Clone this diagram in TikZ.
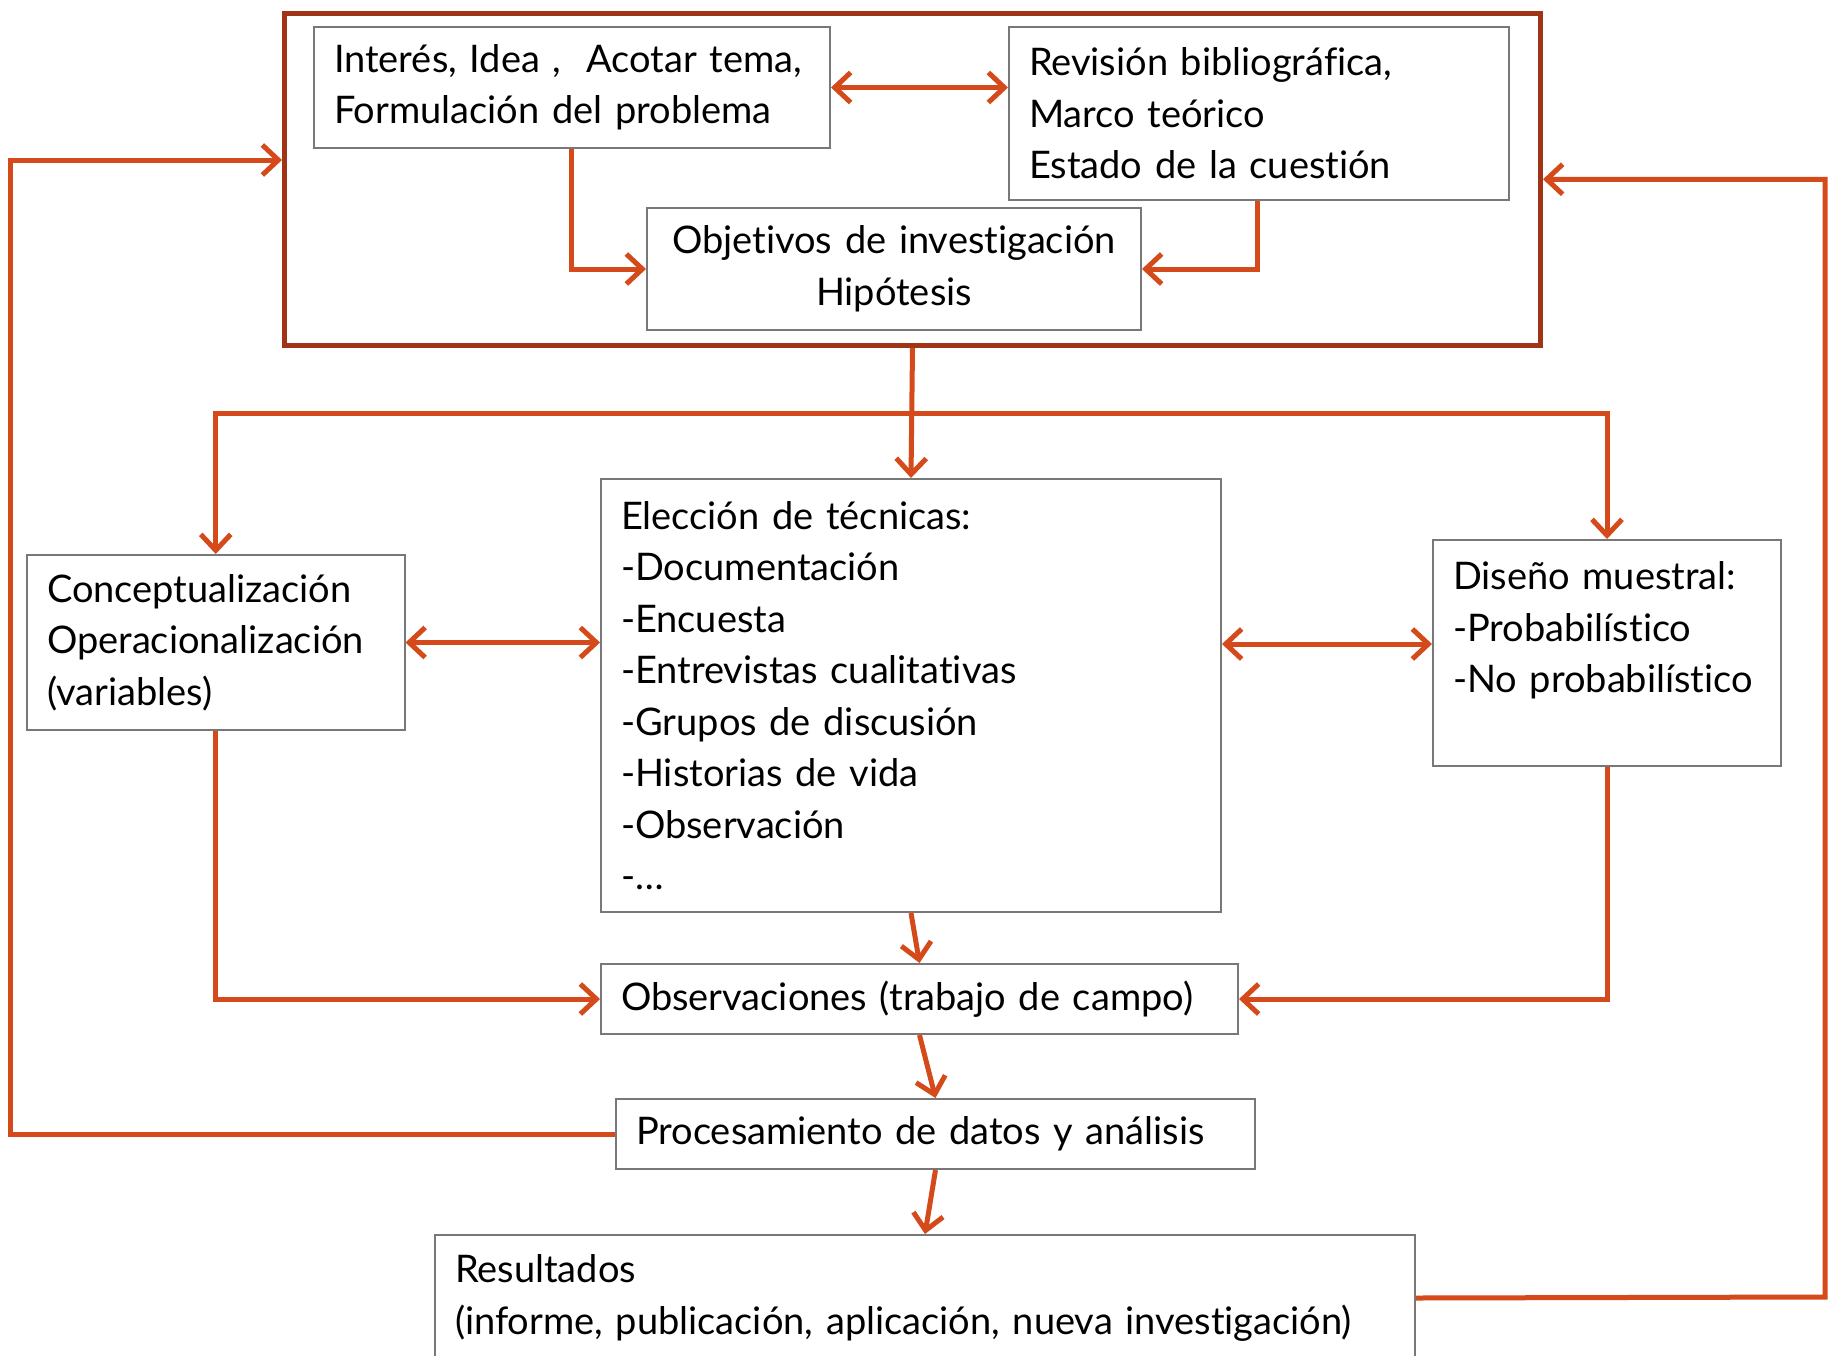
\documentclass[tikz,border=0pt]{standalone}
\usepackage{fontspec}
\setmainfont{Lato}[Ligatures=NoCommon]
\usetikzlibrary{arrows.meta}
\definecolor{connc}{RGB}{212,74,26}
\definecolor{framec}{RGB}{160,52,22}
\definecolor{boxc}{RGB}{120,120,120}
\begin{document}
\begin{tikzpicture}[x=1pt,y=-1pt,
  txt/.style={font={\fontsize{38pt}{51.5pt}\selectfont}},
  bx/.style={draw=boxc,line width=2pt,fill=white,anchor=north west,inner xsep=20pt,inner ysep=0pt,align=left,txt},
  framebox/.style={draw=framec,line width=5pt,anchor=north west,inner sep=0pt},
  conn/.style={draw=connc,line width=5pt,>={Straight Barb[length=16pt,width=30pt]}}]
\useasboundingbox[fill=white] (0,0) rectangle (1834,1355);
% frame
\node[framebox,minimum width=1256pt,minimum height=332.5pt] (frame) at (282,10.5) {};
% boxes
\node[bx,text width=476pt,minimum height=121pt] (b1) at (313,26) {\mbox{Interés, Idea ,\ \ Acotar tema,}\\\mbox{Formulación del problema}};
\node[bx,text width=460pt,minimum height=173pt] (b2) at (1008,26) {\mbox{Revisión bibliográfica,}\\Marco teórico\\\mbox{Estado de la cuestión}};
\node[bx,text width=454pt,minimum height=122pt,align=center] (b3) at (646,207) {\mbox{Objetivos de investigación}\\Hipótesis};
\node[bx,text width=337.5pt,minimum height=175pt] (cc) at (26,554) {\mbox{Conceptualización}\\\mbox{Operacionalización}\\(variables)};
\node[bx,text width=580pt,minimum height=433pt] (el) at (600,478) {\mbox{Elección de técnicas:}\\\mbox{-Documentación}\\-Encuesta\\\mbox{-Entrevistas cualitativas}\\\mbox{-Grupos de discusión}\\\mbox{-Historias de vida}\\\mbox{-Observación}\\-…};
\node[bx,text width=308pt,minimum height=226pt] (ds) at (1432,539) {\mbox{Diseño muestral:}\\\mbox{-Probabilístico}\\\mbox{-No probabilístico}\\\mbox{}};
\node[bx,text width=597pt,minimum height=70pt] (ob) at (600,963) {\mbox{Observaciones (trabajo de campo)}};
\node[bx,text width=599pt,minimum height=70pt] (pr) at (615,1098) {\mbox{Procesamiento de datos y análisis}};
\node[bx,text width=940pt,minimum height=126pt] (rs) at (434,1234) {Resultados\\\mbox{(informe, publicación, aplicación, nueva investigación)}};
% coordinates
\coordinate (br) at (910,413);
\coordinate (midy) at (0,644);
\coordinate (lfa) at (10.5,160);
\coordinate (rfa) at (1825,1297);
% connectors
\draw[conn,<->] (b1.east) -- (b1.east -| b2.west);
\draw[conn,->] ([xshift=258pt]b1.south west) |- (b3.west);
\draw[conn,->] ([xshift=249pt]b2.south west) |- (b3.east);
\draw[conn,->] (frame.south) -- (el.north);
\draw[conn,<->] (cc.north) |- (br) -| (ds.north);
\draw[conn,<->] (cc.east) -- (cc.east -| el.west);
\draw[conn,<->] (el.east |- midy) -- (ds.west |- midy);
\draw[conn,->] (cc.south) |- (ob.west);
\draw[conn,->] (ds.south) |- (ob.east);
\draw[conn,->] (el.south) -- (ob.north);
\draw[conn,->] (ob.south) -- (pr.north);
\draw[conn,->] (pr.south) -- (rs.north);
\draw[conn,->] (pr.west) -| (lfa) -- (lfa -| frame.west);
\draw[conn,->] (rs.east) -- (rfa) |- (frame.east);
\end{tikzpicture}
\end{document}
